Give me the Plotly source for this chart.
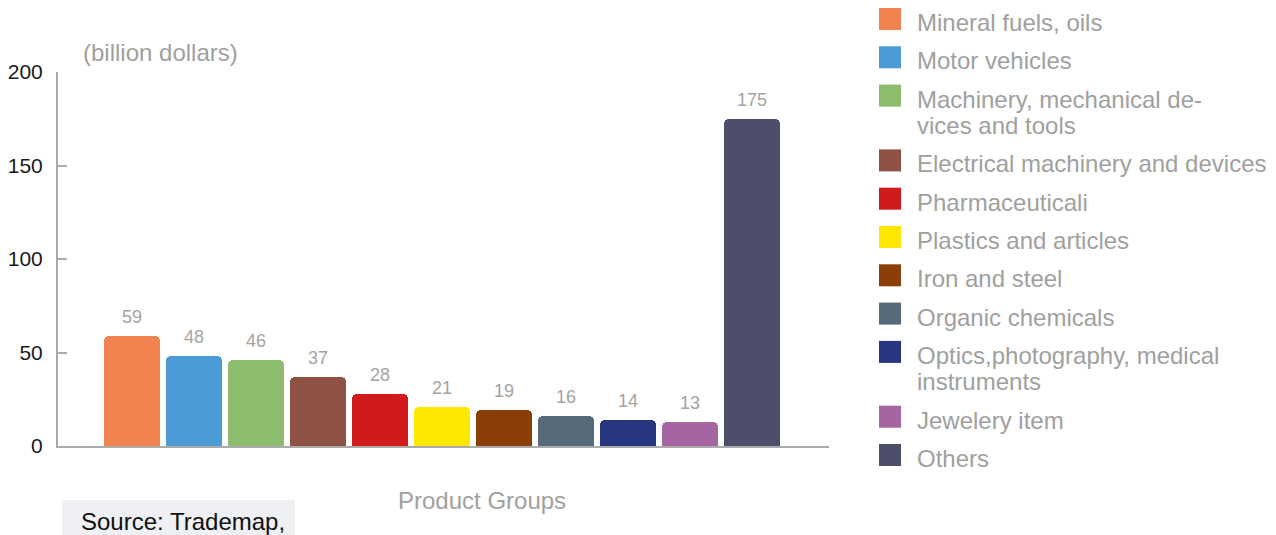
import plotly.graph_objects as go

# Export values by product group (billion dollars)
categories = [
    "Mineral fuels, oils",
    "Motor vehicles",
    "Machinery, mechanical de-<br>vices and tools",
    "Electrical machinery and devices",
    "Pharmaceuticali",
    "Plastics and articles",
    "Iron and steel",
    "Organic chemicals",
    "Optics,photography, medical<br>instruments",
    "Jewelery item",
    "Others",
]
values = [59, 48, 46, 37, 28, 21, 19, 16, 14, 13, 175]
colors = [
    "#f0834f", "#4a9bd6", "#8bbd6c", "#8f5345", "#d2191c", "#ffe800",
    "#8b3e05", "#566a79", "#283580", "#a565a3", "#4c4e6a",
]
y_ticks = [0, 50, 100, 150, 200]

W, H = 1276, 535
FONT = "Liberation Sans, Arial, Helvetica, sans-serif"
GRAY = "#a0a0a0"
AXIS = "#ababab"


def px(x):
    return x / W


def py(y):
    return 1 - y / H


x_pos = list(range(len(values)))
x_lo, x_hi = -1.194, 11.242

fig = go.Figure()
for i, (name, v, c) in enumerate(zip(categories, values, colors)):
    fig.add_trace(go.Bar(
        x=[x_pos[i]], y=[v], name=name.replace("<br>", ""),
        marker=dict(color=c, line=dict(width=0), cornerradius=5),
        width=0.903, showlegend=False, hoverinfo="y",
    ))

annotations = []
# Value labels above the bars
for i, v in enumerate(values):
    annotations.append(dict(
        x=x_pos[i], y=v, xref="x", yref="y", text=str(v), showarrow=False,
        yshift=19, yanchor="middle",
        font=dict(family=FONT, size=18, color="#a4a4a4"),
    ))

# Unit label and axis title
annotations.append(dict(
    x=px(81), y=py(52), xref="paper", yref="paper", xanchor="left", yanchor="middle",
    text="(billion dollars)", showarrow=False, font=dict(family=FONT, size=24, color=GRAY),
))
annotations.append(dict(
    x=px(482), y=py(500), xref="paper", yref="paper", xanchor="center", yanchor="middle",
    text="Product Groups", showarrow=False, font=dict(family=FONT, size=24, color=GRAY),
))

# Source note on a light panel
shapes = [dict(
    type="rect", xref="paper", yref="paper", x0=px(62), x1=px(295), y0=py(535), y1=py(500),
    fillcolor="#eef0f3", line=dict(width=0), layer="below",
)]
annotations.append(dict(
    x=px(79), y=py(521), xref="paper", yref="paper", xanchor="left", yanchor="middle",
    text="Source: Trademap,", showarrow=False, font=dict(family=FONT, size=24, color="#111111"),
))

# Legend: coloured squares with labels, one annotation per text line
extra = 0
for i, (name, c) in enumerate(zip(categories, colors)):
    top = 8 + 38.3 * i + 26.5 * extra
    shapes.append(dict(
        type="rect", xref="paper", yref="paper", x0=px(879), x1=px(901),
        y0=py(top + 22), y1=py(top), fillcolor=c, line=dict(width=0),
    ))
    for k, line in enumerate(name.split("<br>")):
        annotations.append(dict(
            x=px(915), y=py(top + 14.5 + 26 * k), xref="paper", yref="paper",
            xanchor="left", yanchor="middle", align="left", text=line, showarrow=False,
            font=dict(family=FONT, size=24, color=GRAY),
        ))
    extra += name.count("<br>")

fig.update_layout(
    width=W, height=H,
    margin=dict(l=0, r=0, t=0, b=0, autoexpand=False),
    paper_bgcolor="white", plot_bgcolor="white",
    bargap=0, showlegend=False,
    font=dict(family=FONT),
    xaxis=dict(
        domain=[px(58), px(829)], range=[x_lo, x_hi], automargin=False,
        showgrid=False, zeroline=False, showline=True, linecolor=AXIS, linewidth=2,
        tickvals=[x_hi], ticktext=[""], ticks="inside", ticklen=9, tickcolor=AXIS, tickwidth=2,
    ),
    yaxis=dict(
        domain=[py(446), py(72)], range=[0, 200], automargin=False,
        showgrid=False, zeroline=False, showline=True, linecolor=AXIS, linewidth=2,
        tickvals=y_ticks, ticks="inside", ticklen=9, tickcolor=AXIS, tickwidth=1.5,
        tickfont=dict(family=FONT, size=21, color="#1a1a1a"), ticklabelstandoff=9,
    ),
    shapes=shapes, annotations=annotations,
)

fig.write_html("out.html")
